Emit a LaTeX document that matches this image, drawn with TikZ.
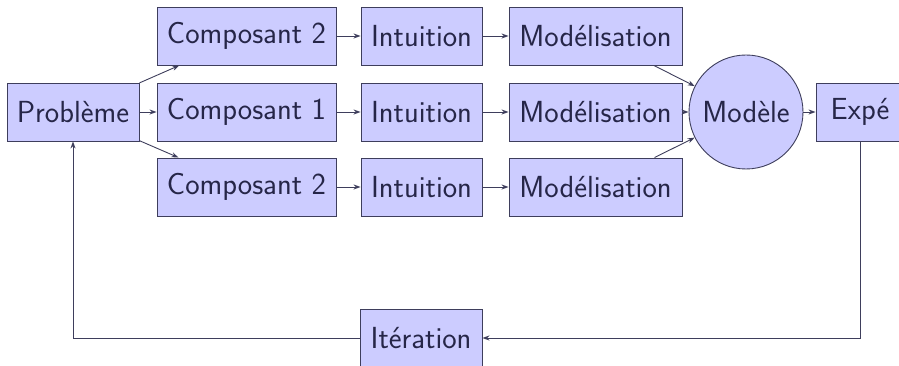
\documentclass[tikz,border=0pt]{standalone}
\usetikzlibrary{arrows.meta}
\definecolor{boxfill}{RGB}{204,204,255}
\definecolor{boxline}{RGB}{62,62,92}
\definecolor{boxtext}{RGB}{38,38,72}
\tikzset{
  x=1pt, y=1pt,
  stage/.style={rectangle, draw=boxline, fill=boxfill, line width=0.9pt,
    text=boxtext, minimum height=58pt, inner sep=0pt,
    font=\sffamily\fontsize{30.5}{36}\selectfont},
  hub/.style={stage, circle, minimum size=114pt},
  link/.style={draw=boxline, line width=0.9pt,
    -{Stealth[length=7pt,width=5pt]}}
}
\begin{document}
\begin{tikzpicture}
\useasboundingbox (0,0) rectangle (899,366);
% entry point
\node[stage, minimum width=132pt] (prob) at (73,254) {Problème};
% three parallel branches
\node[stage, minimum width=179pt] (ca) at (246.5,330) {Composant 2};
\node[stage, minimum width=179pt] (cb) at (246.5,254) {Composant 1};
\node[stage, minimum width=179pt] (cc) at (246.5,179) {Composant 2};
\node[stage, minimum width=121pt] (ia) at (421.5,330) {Intuition};
\node[stage, minimum width=121pt] (ib) at (421.5,254) {Intuition};
\node[stage, minimum width=121pt] (ic) at (421.5,179) {Intuition};
\node[stage, minimum width=173pt] (ma) at (595.5,330) {Modélisation};
\node[stage, minimum width=173pt] (mb) at (595.5,254) {Modélisation};
\node[stage, minimum width=173pt] (mc) at (595.5,179) {Modélisation};
% merge and test
\node[hub] (model) at (746,254) {Modèle};
\node[stage, minimum width=88pt] (expe) at (860,254) {Expé};
\node[stage, minimum width=122pt] (iter) at (421,28) {Itération};
% connectors
\draw[link] (prob) -- (ca);
\draw[link] (prob) -- (cb);
\draw[link] (prob) -- (cc);
\foreach \c/\i/\m in {ca/ia/ma, cb/ib/mb, cc/ic/mc}{
  \draw[link] (\c) -- (\i);
  \draw[link] (\i) -- (\m);
  \draw[link] (\m) -- (model);
}
\draw[link] (model) -- (expe);
\draw[link] (expe.south) |- (iter.east);
\draw[link] (iter.west) -| (prob.south);
\end{tikzpicture}
\end{document}
